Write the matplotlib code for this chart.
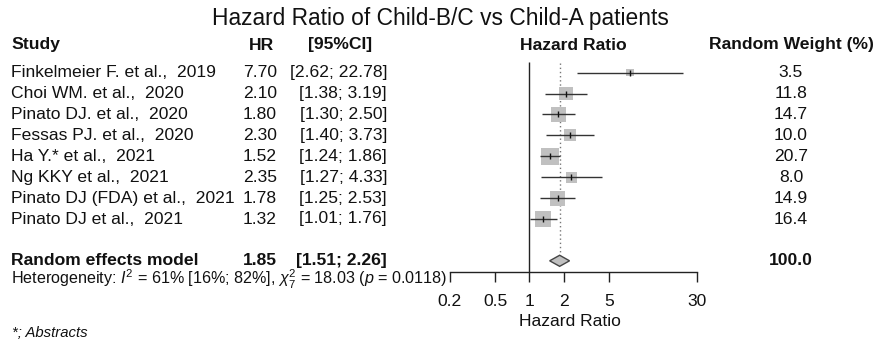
import matplotlib
matplotlib.use("Agg")
import matplotlib.pyplot as plt
import numpy as np
from matplotlib.patches import Polygon

plt.rcParams['font.family'] = ['Liberation Sans', 'DejaVu Sans']
plt.rcParams['mathtext.fontset'] = 'custom'
plt.rcParams['mathtext.rm'] = 'Liberation Sans'
plt.rcParams['mathtext.it'] = 'Liberation Sans:italic'

# ---------------- data ----------------
title = "Hazard Ratio of Child-B/C vs Child-A patients"
studies = ["Finkelmeier F. et al.,  2019", "Choi WM. et al.,  2020", "Pinato DJ. et al.,  2020",
           "Fessas PJ. et al.,  2020", "Ha Y.* et al.,  2021", "Ng KKY et al.,  2021",
           "Pinato DJ (FDA) et al.,  2021", "Pinato DJ et al.,  2021"]
hr = [7.70, 2.10, 1.80, 2.30, 1.52, 2.35, 1.78, 1.32]
ci_lo = [2.62, 1.38, 1.30, 1.40, 1.24, 1.27, 1.25, 1.01]
ci_hi = [22.78, 3.19, 2.50, 3.73, 1.86, 4.33, 2.53, 1.76]
weights = [3.5, 11.8, 14.7, 10.0, 20.7, 8.0, 14.9, 16.4]
summary_label = "Random effects model"
summary_hr, summary_lo, summary_hi, summary_w = 1.85, 1.51, 2.26, 100.0
heterogeneity = r"Heterogeneity: $I^2$ = 61% [16%; 82%], $\chi^2_7$ = 18.03 ($p$ = 0.0118)"
xticks = [0.2, 0.5, 1, 2, 5, 30]
xtick_labels = ["0.2", "0.5", "1", "2", "5", "30"]
footnote = "*; Abstracts"

# ---------------- layout ----------------
W, H = 875, 345
fig = plt.figure(figsize=(W / 100, H / 100), dpi=100)
ov = fig.add_axes([0, 0, 1, 1])
ov.set_xlim(0, W)
ov.set_ylim(H, 0)
ov.axis('off')

row0, rowh = 72.7, 20.9
def rowpx(i):
    return row0 + i * rowh

fs = 12.6
txtc = '#111111'
ov.text(440, 18, title, ha='center', va='center', fontsize=16.4, color=txtc)
hy = 45
ov.text(11, hy, "Study", ha='left', va='center', fontsize=fs, fontweight='bold', color=txtc)
ov.text(262, hy, "HR", ha='center', va='center', fontsize=fs, fontweight='bold', color=txtc)
ov.text(340, hy, "[95%CI]", ha='center', va='center', fontsize=fs, fontweight='bold', color=txtc)
ov.text(573, hy, "Hazard Ratio", ha='center', va='center', fontsize=fs, fontweight='bold', color=txtc)
ov.text(791, hy, "Random Weight (%)", ha='center', va='center', fontsize=fs, fontweight='bold', color=txtc)

for i, s in enumerate(studies):
    y = rowpx(i)
    ov.text(11, y, s, ha='left', va='center', fontsize=fs, color=txtc)
    ov.text(277, y, f"{hr[i]:.2f}", ha='right', va='center', fontsize=fs, color=txtc)
    ov.text(387, y, f"[{ci_lo[i]:.2f}; {ci_hi[i]:.2f}]", ha='right', va='center', fontsize=fs, color=txtc)
    ov.text(791, y, f"{weights[i]:.1f}", ha='center', va='center', fontsize=fs, color=txtc)

ys = rowpx(9)
ov.text(11, ys, summary_label, ha='left', va='center', fontsize=fs, fontweight='bold', color=txtc)
ov.text(277, ys, f"{summary_hr:.2f}", ha='right', va='center', fontsize=fs, fontweight='bold', color=txtc)
ov.text(387, ys, f"[{summary_lo:.2f}; {summary_hi:.2f}]", ha='right', va='center', fontsize=fs,
        fontweight='bold', color=txtc)
ov.text(791, ys, f"{summary_w:.1f}", ha='center', va='center', fontsize=fs, fontweight='bold', color=txtc)
ov.text(11, 279, heterogeneity, ha='left', va='center', fontsize=11.6, color=txtc)
ov.text(570, 322, "Hazard Ratio", ha='center', va='center', fontsize=fs, color=txtc)
ov.text(12, 333, footnote, ha='left', va='center', fontsize=10.7, style='italic', color=txtc)

# ---------------- forest axes ----------------
x0, x1 = 450, 697
ytop_px, ybot_px = 50, 271.7
ax = fig.add_axes([x0 / W, 1 - ybot_px / H, (x1 - x0) / W, (ybot_px - ytop_px) / H])
ax.patch.set_alpha(0)
ax.set_xscale('log')
ax.set_xlim(0.2, 30)
to_idx = lambda px: (px - row0) / rowh
ax.set_ylim(to_idx(ybot_px), to_idx(ytop_px))
for sp in ['top', 'right', 'left']:
    ax.spines[sp].set_visible(False)
ax.spines['bottom'].set_bounds(0.2, 30)
ax.spines['bottom'].set_color('#222222')
ax.spines['bottom'].set_linewidth(1.0)
ax.set_yticks([])
ax.set_xticks(xticks)
ax.set_xticklabels(xtick_labels)
ax.xaxis.set_minor_locator(matplotlib.ticker.NullLocator())
ax.tick_params(axis='x', direction='out', length=7.5, width=1.0, color='#222222',
               labelsize=fs, labelcolor=txtc, pad=8.5)

# reference line at 1 and summary dotted line
ax.vlines(1, to_idx(61.7), to_idx(ybot_px), color='#222222', lw=1.0, clip_on=False)
ax.vlines(summary_hr, to_idx(63), 9 - 0.29, color='#777777', lw=1.0,
          linestyles=(0, (1, 2)), clip_on=False)

idx = np.arange(len(studies))
side_px = 3.85 * np.sqrt(np.array(weights))
ax.scatter(hr, idx, marker='s', s=(side_px * 0.72) ** 2, color='#c0c0c0',
           edgecolors='none', zorder=2)
ax.hlines(idx, ci_lo, ci_hi, color='#333333', lw=1.0, zorder=3, clip_on=False)
ax.scatter(hr, idx, marker='|', s=16, color='#111111', linewidths=1.0, zorder=4)

dh = 0.265
diamond = Polygon([[summary_lo, 9], [summary_hr, 9 - dh], [summary_hi, 9], [summary_hr, 9 + dh]],
                  closed=True, facecolor='#c0c0c0', edgecolor='#444444', lw=1.0, zorder=3)
ax.add_patch(diamond)

fig.savefig("out.png", dpi=100)
